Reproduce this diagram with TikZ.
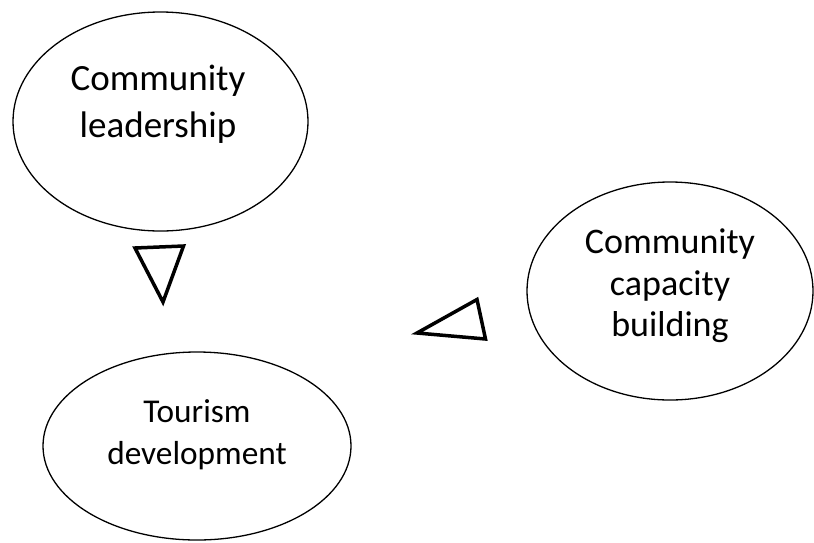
\documentclass[tikz,border=0pt]{standalone}
\usepackage{fontspec}
\setmainfont{Carlito}
\usetikzlibrary{shapes.geometric}
\begin{document}
\begin{tikzpicture}[x=1pt,y=-1pt,
  oval/.style={draw=black,line width=1.3pt,ellipse,inner sep=0pt},
  lbl/.style={align=center,inner sep=0pt,text=black},
  tri/.style={draw=black,line width=3.5pt,line join=miter}]
\useasboundingbox (0,0) rectangle (814,542);
\node[oval,minimum width=295pt,minimum height=219pt] (lead) at (160.5,121.5) {};
\node[oval,minimum width=308pt,minimum height=188pt] (tour) at (197,446) {};
\node[oval,minimum width=286pt,minimum height=218pt] (cap) at (670,291) {};
\node[lbl,font=\fontsize{37}{47}\selectfont] (leadt) at (158,104) {Community\\leadership};
\node[lbl,font=\fontsize{33.3}{42}\selectfont] (tourt) at (197,435) {Tourism\\development};
\node[lbl,font=\fontsize{36}{41.5}\selectfont] (capt) at (670,286) {Community\\capacity\\building};
\coordinate (t1a) at (135,248);
\coordinate (t1b) at (183.5,246);
\coordinate (t1c) at (163,302);
\coordinate (t2a) at (417,333);
\coordinate (t2b) at (477,299.5);
\coordinate (t2c) at (485.5,339);
\draw[tri] (t1a) -- (t1b) -- (t1c) -- cycle;
\draw[tri] (t2a) -- (t2b) -- (t2c) -- cycle;
\end{tikzpicture}
\end{document}
